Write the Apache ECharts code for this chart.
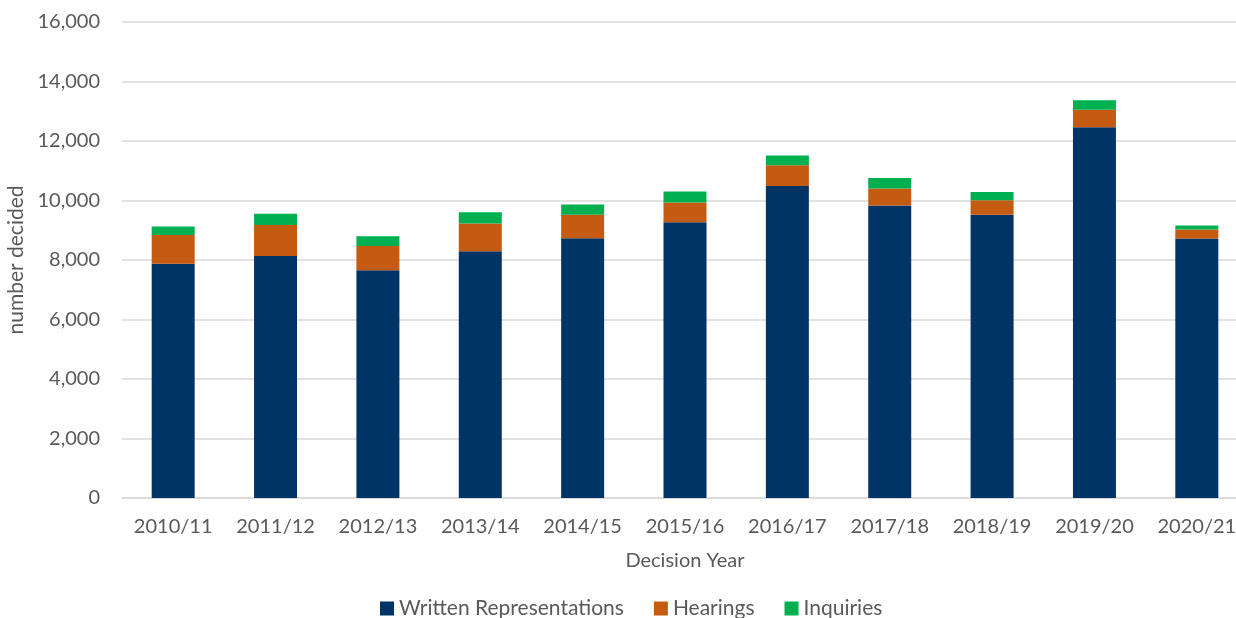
<!DOCTYPE html>
<html>
<head>
<meta charset="utf-8">
<script src="https://cdn.jsdelivr.net/npm/echarts@6/dist/echarts.min.js"></script>
<style>
html,body{margin:0;padding:0;background:#fff;}
#chart{width:1236px;height:618px;}
</style>
</head>
<body>
<div id="chart"></div>
<script>
var categories = ['2010/11','2011/12','2012/13','2013/14','2014/15','2015/16','2016/17','2017/18','2018/19','2019/20','2020/21'];
var writtenRepresentations = [7876, 8135, 7653, 8292, 8730, 9270, 10486, 9831, 9525, 12460, 8719];
var hearings = [967, 1045, 819, 933, 787, 663, 700, 576, 486, 593, 303];
var inquiries = [281, 371, 326, 382, 348, 370, 328, 350, 271, 315, 134];
var yTicks = {min: 0, max: 16000, interval: 2000};

var FONT = 'Lato';
var TXT = '#595959';
var chart = echarts.init(document.getElementById('chart'), null, {renderer: 'canvas'});
function bar(name, data, color) {
  return {
    name: name, type: 'bar', stack: 'total', data: data,
    barCategoryGap: '58%',
    itemStyle: {color: color},
    emphasis: {disabled: true}
  };
}
chart.setOption({
  animation: false,
  textStyle: {fontFamily: FONT},
  grid: {left: 122, top: 22, width: 1126, height: 476, containLabel: false, outerBoundsMode: 'none'},
  legend: {
    bottom: -6, left: 375,
    itemWidth: 14, itemHeight: 14, itemGap: 30,
    icon: 'rect',
    textStyle: {fontFamily: FONT, fontSize: 21, color: TXT},
    data: ['Written Representations', 'Hearings', 'Inquiries']
  },
  xAxis: {
    type: 'category', data: categories,
    name: 'Decision Year', nameLocation: 'middle', nameGap: 53,
    nameTextStyle: {fontFamily: FONT, fontSize: 20, color: TXT},
    axisLine: {show: true, lineStyle: {color: '#d9d9d9', width: 1.5}},
    axisTick: {show: false},
    axisLabel: {fontFamily: FONT, fontSize: 20, color: TXT, margin: 19, interval: 0, hideOverlap: false}
  },
  yAxis: {
    type: 'value', min: yTicks.min, max: yTicks.max, interval: yTicks.interval,
    name: 'number decided', nameLocation: 'middle', nameGap: 93,
    nameTextStyle: {fontFamily: FONT, fontSize: 21, color: TXT},
    axisLine: {show: false}, axisTick: {show: false},
    splitLine: {lineStyle: {color: '#d9d9d9', width: 1.5}},
    axisLabel: {
      fontFamily: FONT, fontSize: 20, color: TXT, margin: 22,
      formatter: function (v) { return v.toLocaleString('en-US'); }
    }
  },
  series: [
    bar('Written Representations', writtenRepresentations, '#003366'),
    bar('Hearings', hearings, '#C55A11'),
    bar('Inquiries', inquiries, '#00B050')
  ]
});
</script>
</body>
</html>
